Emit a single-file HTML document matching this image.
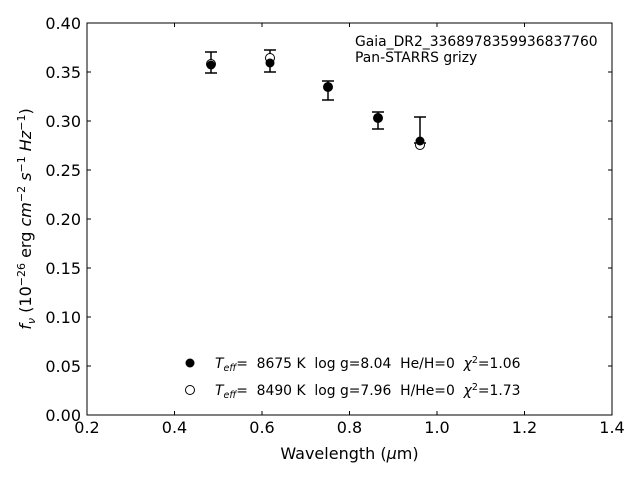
<!DOCTYPE html>
<html><head><style>body{margin:0;background:#fff} text{white-space:pre}</style></head><body>
<svg width="640" height="480" xmlns="http://www.w3.org/2000/svg" font-family="DejaVu Sans, Liberation Sans, sans-serif" xml:space="preserve">
<rect width="640" height="480" fill="#fff"/>
<rect x="87" y="23" width="525" height="392" fill="none" stroke="#000" stroke-width="1"/>
<g stroke="#000" stroke-width="1">
<line x1="87" y1="415" x2="87" y2="411"/><line x1="174.5" y1="415" x2="174.5" y2="411"/><line x1="262" y1="415" x2="262" y2="411"/><line x1="349.5" y1="415" x2="349.5" y2="411"/><line x1="437" y1="415" x2="437" y2="411"/><line x1="524.5" y1="415" x2="524.5" y2="411"/><line x1="612" y1="415" x2="612" y2="411"/>
<line x1="87" y1="23" x2="87" y2="27"/><line x1="174.5" y1="23" x2="174.5" y2="27"/><line x1="262" y1="23" x2="262" y2="27"/><line x1="349.5" y1="23" x2="349.5" y2="27"/><line x1="437" y1="23" x2="437" y2="27"/><line x1="524.5" y1="23" x2="524.5" y2="27"/>
<line x1="87" y1="366" x2="91" y2="366"/><line x1="87" y1="317" x2="91" y2="317"/><line x1="87" y1="268" x2="91" y2="268"/><line x1="87" y1="219" x2="91" y2="219"/><line x1="87" y1="170" x2="91" y2="170"/><line x1="87" y1="121" x2="91" y2="121"/><line x1="87" y1="72" x2="91" y2="72"/>
<line x1="612" y1="366" x2="608" y2="366"/><line x1="612" y1="317" x2="608" y2="317"/><line x1="612" y1="268" x2="608" y2="268"/><line x1="612" y1="219" x2="608" y2="219"/><line x1="612" y1="170" x2="608" y2="170"/><line x1="612" y1="121" x2="608" y2="121"/><line x1="612" y1="72" x2="608" y2="72"/>
</g>
<g font-size="16" text-anchor="middle" fill="#000">
<text x="87" y="433">0.2</text><text x="174.5" y="433">0.4</text><text x="262" y="433">0.6</text><text x="349.5" y="433">0.8</text><text x="437" y="433">1.0</text><text x="524.5" y="433">1.2</text><text x="612" y="433">1.4</text>
</g>
<g font-size="16" text-anchor="end" fill="#000">
<text x="81" y="421">0.00</text><text x="81" y="372">0.05</text><text x="81" y="323">0.10</text><text x="81" y="274">0.15</text><text x="81" y="225">0.20</text><text x="81" y="176">0.25</text><text x="81" y="127">0.30</text><text x="81" y="78">0.35</text><text x="81" y="29">0.40</text>
</g>
<text x="349.5" y="459" font-size="16" text-anchor="middle">Wavelength (<tspan font-style="italic">μ</tspan>m)</text>
<text transform="translate(31,219) rotate(-90)" font-size="16" text-anchor="middle"><tspan font-style="italic">f<tspan font-size="11" dy="4">ν</tspan></tspan><tspan dy="-4"> (10</tspan><tspan font-size="11" dy="-6">−26</tspan><tspan dy="6"> erg </tspan><tspan font-style="italic">cm</tspan><tspan font-size="11" dy="-6">−2</tspan><tspan dy="6" font-style="italic"> s</tspan><tspan font-size="11" dy="-6">−1</tspan><tspan dy="6" font-style="italic"> Hz</tspan><tspan font-size="11" dy="-6">−1</tspan><tspan dy="6">)</tspan></text>
<text x="355" y="46" font-size="13.9">Gaia_DR2_3368978359936837760</text>
<text x="355" y="62" font-size="13.9">Pan-STARRS grizy</text>
<g stroke="#000" stroke-width="1.5">
<line x1="211" y1="52" x2="211" y2="73"/><line x1="205" y1="52" x2="217" y2="52"/><line x1="205" y1="73" x2="217" y2="73"/>
<line x1="270" y1="50" x2="270" y2="72"/><line x1="264" y1="50" x2="276" y2="50"/><line x1="264" y1="72" x2="276" y2="72"/>
<line x1="328" y1="81" x2="328" y2="100"/><line x1="322" y1="81" x2="334" y2="81"/><line x1="322" y1="100" x2="334" y2="100"/>
<line x1="378" y1="112" x2="378" y2="129"/><line x1="372" y1="112" x2="384" y2="112"/><line x1="372" y1="129" x2="384" y2="129"/>
<line x1="420" y1="117" x2="420" y2="143"/><line x1="414" y1="117" x2="426" y2="117"/><line x1="414" y1="143" x2="426" y2="143"/>
</g>
<g fill="#fff" stroke="#000" stroke-width="1">
<circle cx="211" cy="64" r="4.5"/><circle cx="270" cy="58" r="4.5"/><circle cx="328" cy="87" r="4.5"/><circle cx="378" cy="118" r="4.5"/><circle cx="420" cy="145" r="4.5"/>
</g>
<g fill="#000">
<circle cx="211" cy="65" r="4.5"/><circle cx="270" cy="63" r="4.5"/><circle cx="328" cy="87" r="4.5"/><circle cx="378" cy="118" r="4.5"/><circle cx="420" cy="141" r="4.5"/>
</g>
<circle cx="190" cy="363" r="4.5" fill="#000"/>
<circle cx="190" cy="390" r="4.5" fill="#fff" stroke="#000"/>
<g font-size="13.9" fill="#000">
<text x="215" y="368"><tspan font-style="italic">T<tspan font-size="9.5" dy="3">eff</tspan></tspan><tspan dy="-3">=  8675 K  log g=8.04  He/H=0  </tspan><tspan font-style="italic">χ</tspan><tspan font-size="9.5" dy="-5">2</tspan><tspan dy="5">=1.06</tspan></text>
<text x="215" y="395"><tspan font-style="italic">T<tspan font-size="9.5" dy="3">eff</tspan></tspan><tspan dy="-3">=  8490 K  log g=7.96  H/He=0  </tspan><tspan font-style="italic">χ</tspan><tspan font-size="9.5" dy="-5">2</tspan><tspan dy="5">=1.73</tspan></text>
</g>
</svg>
</body></html>
